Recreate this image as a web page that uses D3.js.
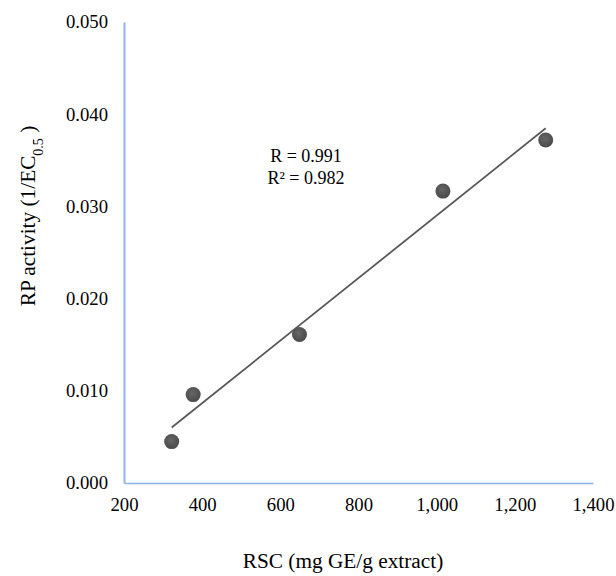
<!DOCTYPE html>
<html>
<head>
<meta charset="utf-8">
<script src="https://cdn.jsdelivr.net/npm/d3@7"></script>
<style>
  body { margin: 0; background: #fff; }
</style>
</head>
<body>
<div id="chart"></div>
<script>
// data
const rscValues = [322, 377, 649, 1016, 1279];
const rpValues = [0.00449, 0.00959, 0.0161, 0.03166, 0.0372];
const xTicks = [200, 400, 600, 800, 1000, 1200, 1400];
const yTicks = [0, 0.01, 0.02, 0.03, 0.04, 0.05];
const statLines = ['R = 0.991', 'R² = 0.982'];

const serif = "Liberation Serif, Tinos, Times New Roman, Times, DejaVu Serif, serif";

const config = {
  width: 616,
  height: 576,
  margin: { top: 22, left: 124, right: 23, bottom: 93 }
};
const innerW = config.width - config.margin.left - config.margin.right;
const innerH = config.height - config.margin.top - config.margin.bottom;

const svg = d3.select('#chart').append('svg')
  .attr('width', config.width)
  .attr('height', config.height)
  .attr('font-family', serif);

const g = svg.append('g')
  .attr('transform', `translate(${config.margin.left},${config.margin.top})`);

const x = d3.scaleLinear().domain([200, 1400]).range([0, innerW]);
const y = d3.scaleLinear().domain([0, 0.05]).range([innerH, 0]);

const axisColor = '#8fb4e3';
const tickSize = 18.7;

// x axis
const xAxis = d3.axisBottom(x).tickValues(xTicks).tickSize(0).tickPadding(15)
  .tickFormat(d3.format(','));
const xg = g.append('g').attr('transform', `translate(0,${innerH})`).call(xAxis);
xg.attr('font-family', serif).attr('font-size', tickSize);
xg.select('.domain').attr('stroke', axisColor).attr('stroke-width', 1.5);
xg.selectAll('text').attr('fill', '#000');

// y axis
const yAxis = d3.axisLeft(y).tickValues(yTicks).tickSize(0).tickPadding(16)
  .tickFormat(d3.format('.3f'));
const yg = g.append('g').call(yAxis);
yg.attr('font-family', serif).attr('font-size', tickSize);
yg.select('.domain').attr('stroke', axisColor).attr('stroke-width', 2);
yg.selectAll('text').attr('fill', '#000');

// least squares trendline from the data
const n = rscValues.length;
const mx = d3.mean(rscValues), my = d3.mean(rpValues);
let sxy = 0, sxx = 0;
for (let i = 0; i < n; i++) {
  sxy += (rscValues[i] - mx) * (rpValues[i] - my);
  sxx += (rscValues[i] - mx) ** 2;
}
const slope = sxy / sxx;
const intercept = my - slope * mx;
const [x0, x1] = d3.extent(rscValues);

g.append('line')
  .attr('x1', x(x0)).attr('y1', y(slope * x0 + intercept))
  .attr('x2', x(x1)).attr('y2', y(slope * x1 + intercept))
  .attr('stroke', '#595959')
  .attr('stroke-width', 1.8);

// points
const defs = svg.append('defs');
const grad = defs.append('radialGradient').attr('id', 'dot')
  .attr('cx', '45%').attr('cy', '40%').attr('r', '60%');
grad.append('stop').attr('offset', '0%').attr('stop-color', '#666');
grad.append('stop').attr('offset', '100%').attr('stop-color', '#4a4a4a');

g.selectAll('.dot')
  .data(rscValues.map((v, i) => ({ x: v, y: rpValues[i] })))
  .enter().append('circle')
  .attr('class', 'dot')
  .attr('cx', d => x(d.x))
  .attr('cy', d => y(d.y))
  .attr('r', 7.5)
  .attr('fill', 'url(#dot)');

// annotation
g.selectAll('.stat')
  .data(statLines)
  .enter().append('text')
  .attr('class', 'stat')
  .attr('x', 182)
  .attr('y', (d, i) => 139.5 + i * 22.5)
  .attr('text-anchor', 'middle')
  .attr('font-size', 18)
  .text(d => d);

// axis labels
svg.append('text')
  .attr('x', 343)
  .attr('y', 568)
  .attr('text-anchor', 'middle')
  .attr('font-size', 21.3)
  .text('RSC (mg GE/g extract)');

const yl = svg.append('text')
  .attr('transform', 'translate(35,216) rotate(-90)')
  .attr('text-anchor', 'middle')
  .attr('font-size', 21.3);
yl.append('tspan').text('RP activity (1/EC');
yl.append('tspan').attr('baseline-shift', 'sub').attr('font-size', 14).text('0.5');
yl.append('tspan').text(' )');
</script>
</body>
</html>
